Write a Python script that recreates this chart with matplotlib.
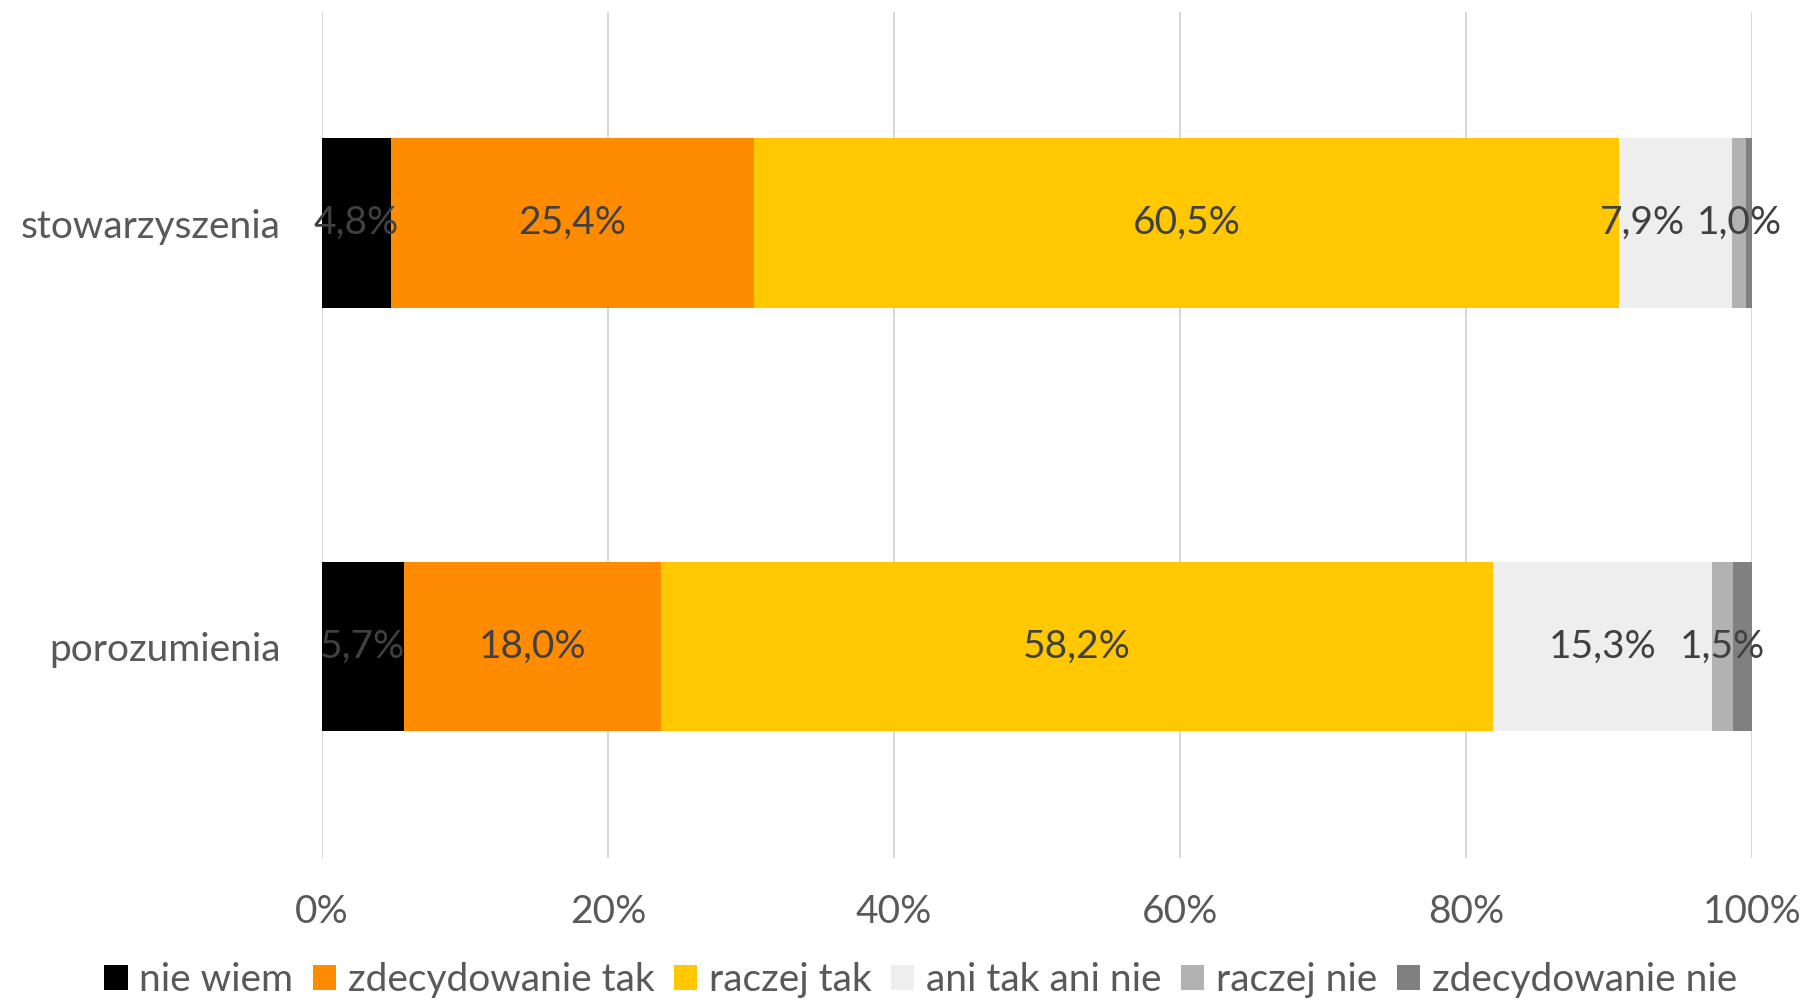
import matplotlib
matplotlib.use("Agg")
import matplotlib.pyplot as plt
import numpy as np

categories = ["stowarzyszenia", "porozumienia"]
series_names = ["nie wiem", "zdecydowanie tak", "raczej tak", "ani tak ani nie", "raczej nie", "zdecydowanie nie"]
nie_wiem = [4.8, 5.7]
zdecydowanie_tak = [25.4, 18.0]
raczej_tak = [60.5, 58.2]
ani_tak_ani_nie = [7.9, 15.3]
raczej_nie = [1.0, 1.5]
zdecydowanie_nie = [0.4, 1.3]
labelled = [True, True, True, True, True, False]
colors = ["#000000", "#FF8C00", "#FFC800", "#EEEEEE", "#B2B2B2", "#808080"]
xticks = [0, 20, 40, 60, 80, 100]
xticklabels = ["0%", "20%", "40%", "60%", "80%", "100%"]

FS = 28
plt.rcParams['font.family'] = ['Lato', 'DejaVu Sans']
fig = plt.figure(figsize=(18.05, 10), dpi=100)
ax = fig.add_axes([322/1805, 1 - 858/1000, (1752-322)/1805, (858-11.5)/1000])

series = [nie_wiem, zdecydowanie_tak, raczej_tak, ani_tak_ani_nie, raczej_nie, zdecydowanie_nie]
y = np.arange(len(categories))
left = np.zeros(len(categories))
row_texts = [[] for _ in categories]
for name, vals, col, lab in zip(series_names, series, colors, labelled):
    vals = np.array(vals)
    ax.barh(y, vals, left=left, height=0.4, color=col, label=name, zorder=3)
    if lab:
        for yi, (l, v) in enumerate(zip(left, vals)):
            t = ax.text(l + v / 2, yi, f"{v:.1f}%".replace(".", ","), ha="center", va="center",
                        fontsize=FS, color="#404040", zorder=4)
            row_texts[yi].append(t)
    left += vals

ax.set_ylim(1.5, -0.5)
ax.set_xlim(0, 100)
ax.set_yticks(y)
ax.set_yticklabels(categories, fontsize=FS, color="#595959")
ax.set_xticks(xticks)
ax.set_xticklabels(xticklabels, fontsize=FS, color="#595959")
ax.tick_params(axis="both", length=0)
ax.tick_params(axis="x", pad=26)
ax.tick_params(axis="y", pad=30)
ax.grid(axis="x", color="#D9D9D9", linewidth=1.5, zorder=0)
for s in ax.spines.values():
    s.set_visible(False)

fig.legend(loc="lower center", bbox_to_anchor=(0.51, 0.002), ncol=6, frameon=False,
           borderpad=0, borderaxespad=0,
           handlelength=0.6, handleheight=0.6, handletextpad=0.3,
           columnspacing=0.5, labelcolor="#595959", prop={"size": FS})

# nudge overlapping data labels leftwards (right-to-left pass)
fig.canvas.draw()
r = fig.canvas.get_renderer()
inv = ax.transData.inverted()
for texts in row_texts:
    for i in range(len(texts) - 1, 0, -1):
        b_next = texts[i].get_window_extent(r)
        b_cur = texts[i - 1].get_window_extent(r)
        gap = b_next.x0 - b_cur.x1
        if gap < 12:
            shift = 12 - gap
            x, yy = texts[i - 1].get_position()
            xd = ax.transData.transform((x, yy))
            xn = inv.transform((xd[0] - shift, xd[1]))[0]
            texts[i - 1].set_position((xn, yy))

fig.savefig("out.png", dpi=100)
